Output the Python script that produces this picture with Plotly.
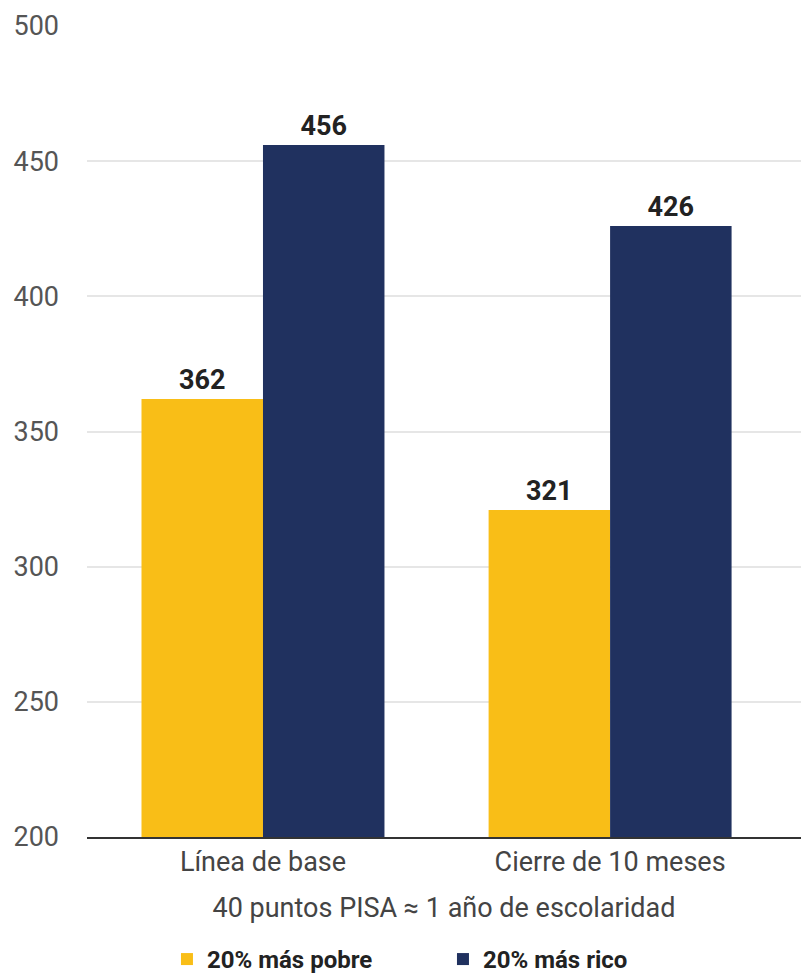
import plotly.graph_objects as go

categories = ["Línea de base", "Cierre de 10 meses"]
pobre = [362, 321]
rico = [456, 426]
series_names = ["20% más pobre", "20% más rico"]
y_ticks = [200, 250, 300, 350, 400, 450, 500]

label_font = dict(family="Roboto", size=27, color="#222222", weight="bold")
legend_font = dict(family="Roboto", size=24, color="#222222", weight="bold")

fig = go.Figure()
fig.add_trace(go.Bar(x=categories, y=pobre, name=series_names[0],
                     marker=dict(color="#F9BE17", line=dict(width=0)),
                     text=[str(v) for v in pobre], textposition="outside",
                     textfont=label_font, cliponaxis=False))
fig.add_trace(go.Bar(x=categories, y=rico, name=series_names[1],
                     marker=dict(color="#20315F", line=dict(width=0)),
                     text=[str(v) for v in rico], textposition="outside",
                     textfont=label_font, cliponaxis=False))

fig.update_layout(
    width=801, height=977,
    margin=dict(l=87, r=0, t=26, b=140, autoexpand=False),
    plot_bgcolor="white", paper_bgcolor="white",
    barmode="group", bargap=0.3, bargroupgap=0,
    font=dict(family="Roboto", color="#444444"),
    showlegend=True,
    legend=dict(orientation="h", x=0.112, xanchor="left", y=-0.151, yanchor="middle",
                font=legend_font, itemwidth=30, entrywidth=231, tracegroupgap=0),
    xaxis=dict(range=[-0.507, 1.55], showline=True, linecolor="#333333", linewidth=2,
               automargin=False,
               tickfont=dict(size=27, color="#444444"), ticks="",
               title=dict(text="40 puntos PISA ≈ 1 año de escolaridad",
                          font=dict(size=27, color="#444444"), standoff=21)),
    yaxis=dict(range=[200, 500], tickvals=y_ticks, showgrid=True, gridcolor="#e6e6e6",
               gridwidth=1.5, zeroline=False, automargin=False,
               tickfont=dict(size=27, color="#555555"),
               ticklabelstandoff=27),
)

fig.write_html("out.html", config={"displayModeBar": False},
               post_script="document.body.style.margin='0';")
